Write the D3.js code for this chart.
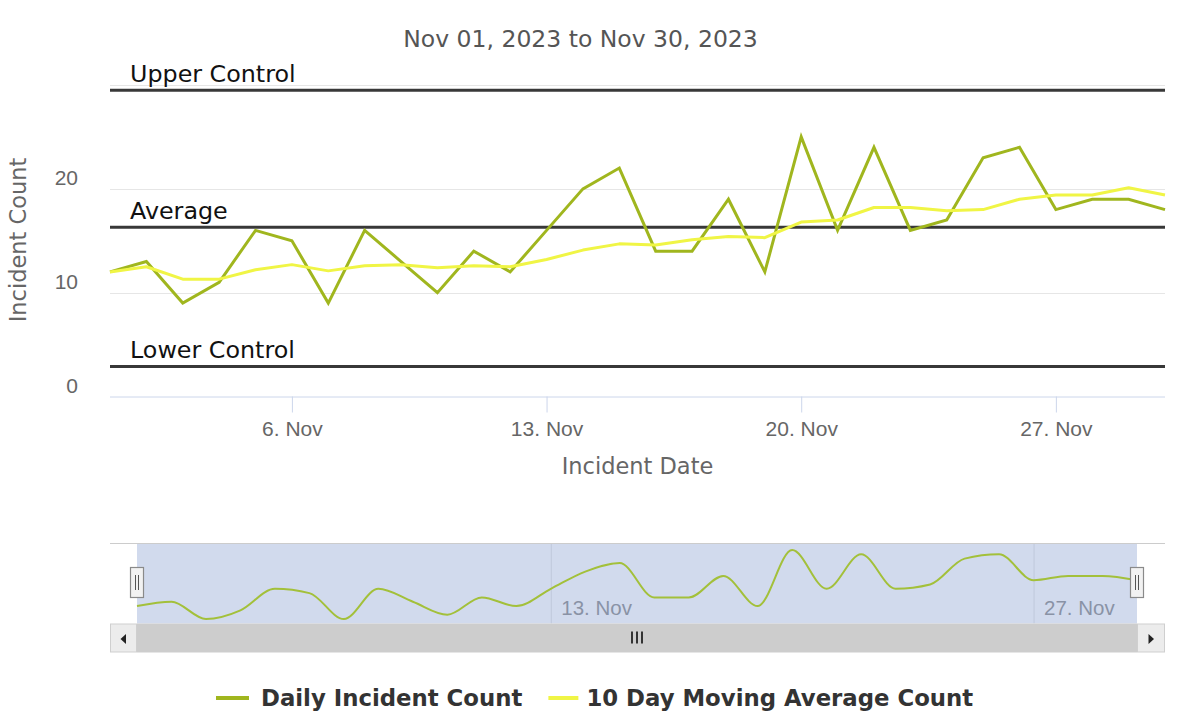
<!DOCTYPE html>
<html>
<head>
<meta charset="utf-8">
<script src="https://cdn.jsdelivr.net/npm/d3@7"></script>
<style>
  body { margin: 0; background: #ffffff; }
  svg { display: block; font-family: "DejaVu Sans", "Noto Sans", sans-serif; }
</style>
</head>
<body>
<svg id="chart" width="1186" height="715"></svg>
<script>
// ---------------- DATA ----------------
const chartTitle = "Nov 01, 2023 to Nov 30, 2023";
const dates = [
  "2023-11-01","2023-11-02","2023-11-03","2023-11-04","2023-11-05","2023-11-06",
  "2023-11-07","2023-11-08","2023-11-09","2023-11-10","2023-11-11","2023-11-12",
  "2023-11-13","2023-11-14","2023-11-15","2023-11-16","2023-11-17","2023-11-18",
  "2023-11-19","2023-11-20","2023-11-21","2023-11-22","2023-11-23","2023-11-24",
  "2023-11-25","2023-11-26","2023-11-27","2023-11-28","2023-11-29","2023-11-30"
];
const dailyCounts = [12,13,9,11,16,15,9,16,13,10,14,12,16,20,22,14,14,19,12,25,16,24,16,17,23,24,18,19,19,18];
const movingAverage = [12.0,12.5,11.3,11.3,12.2,12.7,12.1,12.6,12.7,12.4,12.6,12.5,13.2,14.1,14.7,14.6,15.1,15.4,15.3,16.8,17.0,18.2,18.2,17.9,18.0,19.0,19.4,19.4,20.1,19.4];
const controlLabels = ["Upper Control","Average","Lower Control"];
const controlValues = [29.5, 16.3, 2.9];
const yTickValues = [0, 10, 20];
const yGridValues = [10, 20, 30];
const yDomain = [0, 30];
const xTickDates = ["2023-11-06","2023-11-13","2023-11-20","2023-11-27"];
const navTickDates = ["2023-11-13","2023-11-27"];
const navDomain = [9, 25];
const seriesNames = ["Daily Incident Count","10 Day Moving Average Count"];
const yAxisTitle = "Incident Count";
const xAxisTitle = "Incident Date";

// ---------------- STYLE / LAYOUT ----------------
const colDaily = "#a0b61e";
const colAvg = "#f0f545";
const colControl = "#383838";
const plot = { left: 110, right: 1165, top: 85, bottom: 396.5 };
const nav = { left: 137, right: 1137, top: 543.5, bottom: 623.5, yTop: 550, yBottom: 619 };
const sb = { top: 623.5, h: 29 };

const parse = d3.utcParse("%Y-%m-%d");
const dateObjs = dates.map(parse);
const svg = d3.select("#chart");

const x = d3.scaleUtc().domain([dateObjs[0], dateObjs[dateObjs.length - 1]]).range([plot.left, plot.right]);
const y = d3.scaleLinear().domain(yDomain).range([plot.bottom, plot.top]);

// title
svg.append("text").attr("x", 580.5).attr("y", 47).attr("text-anchor", "middle")
  .attr("font-size", "23.5px").attr("fill", "#555").text(chartTitle);

// gridlines
svg.append("g").selectAll("line").data(yGridValues).join("line")
  .attr("x1", plot.left).attr("x2", plot.right)
  .attr("y1", d => Math.round(y(d)) + 0.5).attr("y2", d => Math.round(y(d)) + 0.5)
  .attr("stroke", "#e6e6e6").attr("stroke-width", 1);

// y axis (labels only)
const yAxis = svg.append("g").attr("transform", `translate(${plot.left},0)`)
  .call(d3.axisLeft(y).tickValues(yTickValues).tickSize(0).tickPadding(32).tickFormat(d3.format("d")));
yAxis.select(".domain").remove();
yAxis.selectAll("text").attr("font-family", null).attr("font-size", "21px").attr("fill", "#666")
  .attr("dy", "-4");

svg.append("text").attr("transform", "translate(26,240) rotate(-90)").attr("text-anchor", "middle")
  .attr("font-size", "22.5px").attr("fill", "#666").text(yAxisTitle);

// x axis
const xAxis = svg.append("g").attr("transform", `translate(0,${plot.bottom})`)
  .call(d3.axisBottom(x).tickValues(xTickDates.map(parse)).tickSize(16).tickPadding(9)
    .tickFormat(d3.utcFormat("%-d. %b")));
xAxis.select(".domain").attr("stroke", "#ccd6eb").attr("d", `M${plot.left},0.5H${plot.right}`);
xAxis.selectAll(".tick line").attr("stroke", "#ccd6eb");
xAxis.selectAll("text").attr("font-family", null).attr("font-size", "21px").attr("fill", "#666");

svg.append("text").attr("x", (plot.left + plot.right) / 2).attr("y", 474).attr("text-anchor", "middle")
  .attr("font-size", "22.5px").attr("fill", "#666").text(xAxisTitle);

// control lines
const ctrl = svg.append("g");
ctrl.selectAll("line").data(controlValues).join("line")
  .attr("x1", plot.left).attr("x2", plot.right)
  .attr("y1", d => y(d)).attr("y2", d => y(d))
  .attr("stroke", colControl).attr("stroke-width", 3);
ctrl.selectAll("text").data(controlValues).join("text")
  .attr("x", 130).attr("y", d => y(d) - 8.5)
  .attr("font-size", "23.8px").attr("fill", "#111")
  .text((d, i) => controlLabels[i]);

// series
const line = d3.line().x((d, i) => x(dateObjs[i])).y(d => y(d));
svg.append("path").datum(dailyCounts).attr("d", line).attr("fill", "none")
  .attr("stroke", colDaily).attr("stroke-width", 3).attr("stroke-linejoin", "miter");
svg.append("path").datum(movingAverage).attr("d", line).attr("fill", "none")
  .attr("stroke", colAvg).attr("stroke-width", 3).attr("stroke-linejoin", "round");

// ---------------- NAVIGATOR ----------------
const nx = d3.scaleUtc().domain(x.domain()).range([nav.left, nav.right]);
const ny = d3.scaleLinear().domain(navDomain).range([nav.yBottom, nav.yTop]);

// nav axis labels (under mask)
const navAxis = svg.append("g").attr("transform", `translate(0,${nav.top})`)
  .call(d3.axisBottom(nx).tickValues(navTickDates.map(parse)).tickSize(nav.bottom - nav.top).tickFormat(d3.utcFormat("%-d. %b")));
navAxis.select(".domain").remove();
navAxis.selectAll(".tick line").attr("stroke", "#e6e6e6");
navAxis.selectAll("text").attr("font-family", null).attr("font-size", "20.5px").attr("fill", "#999")
  .attr("text-anchor", "start").attr("x", 10).attr("y", 71).attr("dy", null);

// mask
svg.append("rect").attr("x", nav.left).attr("y", nav.top).attr("width", nav.right - nav.left)
  .attr("height", nav.bottom - nav.top).attr("fill", "rgba(102,133,194,0.3)");
// outline
svg.append("line").attr("x1", plot.left).attr("x2", plot.right).attr("y1", nav.top).attr("y2", nav.top)
  .attr("stroke", "#cccccc").attr("stroke-width", 1);

// nav series
const navLine = d3.line().curve(d3.curveMonotoneX).x((d, i) => nx(dateObjs[i])).y(d => ny(d));
svg.append("path").datum(dailyCounts).attr("d", navLine).attr("fill", "none")
  .attr("stroke", "#a3c03a").attr("stroke-width", 2);

// handles
const handles = svg.append("g").selectAll("g").data([nav.left, nav.right]).join("g")
  .attr("transform", d => `translate(${Math.round(d)},0)`);
handles.append("rect").attr("x", -6.5).attr("y", 567.5).attr("width", 13).attr("height", 30)
  .attr("fill", "#f2f2f2").attr("stroke", "#8a8a8a").attr("stroke-width", 1.2);
handles.append("path").attr("d", "M-1.5,575V590M1.5,575V590").attr("stroke", "#555").attr("stroke-width", 1);

// ---------------- SCROLLBAR ----------------
svg.append("rect").attr("x", nav.left).attr("y", sb.top).attr("width", nav.right - nav.left).attr("height", sb.h)
  .attr("fill", "#cdcdcd");
const buttons = [[plot.left, nav.left, -1], [nav.right, plot.right, 1]];
const btn = svg.append("g").selectAll("g").data(buttons).join("g");
btn.append("rect").attr("x", d => d[0] + 0.5).attr("y", sb.top + 0.5).attr("width", d => d[1] - d[0] - 1)
  .attr("height", sb.h - 1).attr("fill", "#ececec").attr("stroke", "#cfcfcf");
btn.append("path").attr("fill", "#222").attr("d", d => {
  const cx = (d[0] + d[1]) / 2, cy = sb.top + sb.h / 2 + 1;
  return d[2] < 0 ? `M${cx - 3},${cy}L${cx + 2.5},${cy - 5}L${cx + 2.5},${cy + 5}Z`
                  : `M${cx + 3},${cy}L${cx - 2.5},${cy - 5}L${cx - 2.5},${cy + 5}Z`;
});
const gx = (nav.left + nav.right) / 2;
svg.append("path").attr("d", `M${gx - 5},${sb.top + 8}V${sb.top + 20}M${gx},${sb.top + 8}V${sb.top + 20}M${gx + 5},${sb.top + 8}V${sb.top + 20}`)
  .attr("stroke", "#333").attr("stroke-width", 2);

// ---------------- LEGEND ----------------
const leg = svg.append("g");
const legY = 698;
leg.append("line").attr("x1", 216).attr("x2", 249).attr("y1", legY).attr("y2", legY)
  .attr("stroke", colDaily).attr("stroke-width", 4);
const t1 = leg.append("text").attr("x", 261).attr("y", legY + 8).attr("font-size", "22.8px")
  .attr("font-weight", "bold").attr("fill", "#333").text(seriesNames[0]);
const w1 = t1.node().getComputedTextLength();
const s2 = 261 + w1 + 26;
leg.append("line").attr("x1", s2).attr("x2", s2 + 30).attr("y1", legY).attr("y2", legY)
  .attr("stroke", colAvg).attr("stroke-width", 4);
leg.append("text").attr("x", s2 + 38).attr("y", legY + 8).attr("font-size", "22.8px")
  .attr("font-weight", "bold").attr("fill", "#333").text(seriesNames[1]);
</script>
</body>
</html>
